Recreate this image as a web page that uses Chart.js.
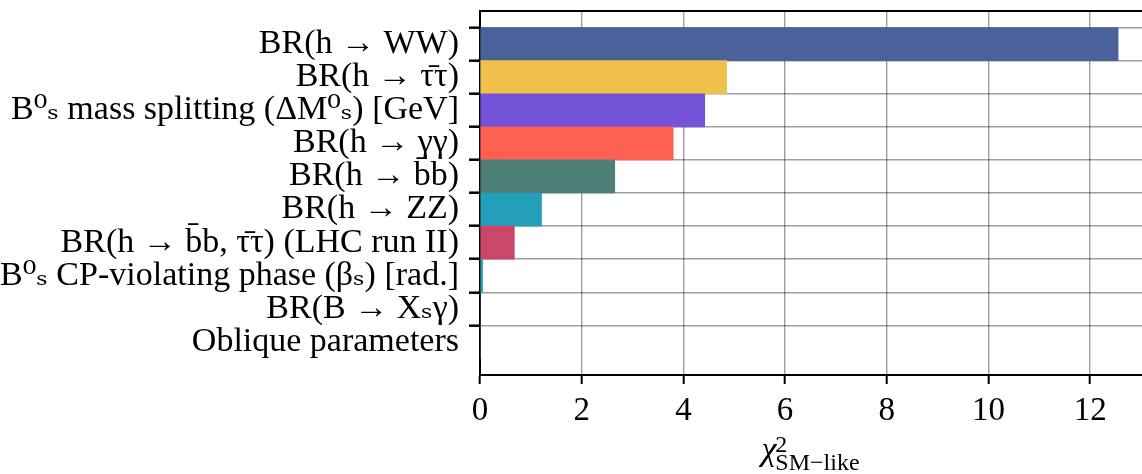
<!DOCTYPE html>
<html>
<head>
<meta charset="utf-8">
<script src="https://cdn.jsdelivr.net/npm/chart.js@4.4.1/dist/chart.umd.min.js"></script>
<style>
  html, body { margin: 0; padding: 0; background: #fff; }
  #wrap { width: 1142px; height: 474px; }
</style>
</head>
<body>
<div id="wrap"><canvas id="chartChi2"></canvas></div>
<script>
const categories = [
  'BR(h → WW)',
  'BR(h → τ̄τ)',
  'B⁰ₛ mass splitting (ΔM⁰ₛ) [GeV]',
  'BR(h → γγ)',
  'BR(h → b̄b)',
  'BR(h → ZZ)',
  'BR(h → b̄b, τ̄τ) (LHC run II)',
  'B⁰ₛ CP-violating phase (βₛ) [rad.]',
  'BR(B → Xₛγ)',
  'Oblique parameters'
];
const chi2Values = [12.55, 4.85, 4.42, 3.80, 2.65, 1.21, 0.675, 0.05, 0, 0];
const barColors = ['#4a6199', '#f0c04c', '#7453d9', '#fd5f50', '#4d7f76', '#239fba', '#c94867', '#2a9dab', '#8b6fb0', '#999999'];
const xTicks = [0, 2, 4, 6, 8, 10, 12];

const SERIF = '"Liberation Serif", "DejaVu Serif", serif';
const GRID = 'rgba(0,0,0,0.38)';

// empty slot above and below the categories, like the matplotlib margins
const labels = ['', ...categories, ''];
const values = [null, ...chi2Values, null];
const colors = ['#000', ...barColors, '#000'];
const isPad = i => i === 0 || i === labels.length - 1;

// top spine + chi^2_{SM-like} axis title
const framePlugin = {
  id: 'frame',
  afterDraw(chart) {
    const { ctx, chartArea: a } = chart;
    ctx.save();
    ctx.strokeStyle = '#000';
    ctx.lineWidth = 2;
    ctx.beginPath();
    ctx.moveTo(a.left, a.top);
    ctx.lineTo(a.right, a.top);
    ctx.stroke();

    ctx.fillStyle = '#000';
    ctx.textBaseline = 'alphabetic';
    ctx.textAlign = 'left';
    ctx.font = 'italic 34px ' + SERIF;
    const wChi = ctx.measureText('χ').width;
    ctx.font = '24px ' + SERIF;
    const wSub = ctx.measureText('SM−like').width;
    const x0 = (a.left + a.right) / 2 - (wChi + wSub) / 2;
    ctx.font = 'italic 34px ' + SERIF;
    ctx.fillText('χ', x0, 460);
    ctx.font = '24px ' + SERIF;
    ctx.fillText('2', x0 + wChi - 1, 452);
    ctx.fillText('SM−like', x0 + wChi - 1, 470);
    ctx.restore();
  }
};

new Chart(document.getElementById('chartChi2').getContext('2d'), {
  type: 'bar',
  data: {
    labels: labels,
    datasets: [{
      data: values,
      backgroundColor: colors,
      borderWidth: 0,
      barPercentage: 1,
      categoryPercentage: 1
    }]
  },
  options: {
    indexAxis: 'y',
    responsive: true,
    maintainAspectRatio: false,
    animation: false,
    layout: { padding: { top: 11, right: 0, bottom: 0, left: 0 } },
    plugins: {
      legend: { display: false },
      tooltip: { enabled: false }
    },
    scales: {
      x: {
        type: 'linear',
        min: 0,
        max: 13.02,
        z: 1,
        afterBuildTicks: (scale) => { scale.ticks = xTicks.map(v => ({ value: v })); },
        afterFit: (scale) => {
          scale.height = 99;
          scale.paddingLeft = 0;
          scale.paddingRight = 0;
        },
        grid: { color: GRID, lineWidth: 1.4, tickColor: '#000', tickWidth: 2, tickLength: 9 },
        border: { color: '#000', width: 2 },
        ticks: {
          color: '#000',
          font: { family: SERIF, size: 33 },
          padding: 8,
          maxRotation: 0
        }
      },
      y: {
        type: 'category',
        offset: false,
        z: 1,
        afterFit: (scale) => {
          scale.width = 480;
          scale.paddingTop = 0;
          scale.paddingBottom = 0;
        },
        grid: {
          color: (c) => isPad(c.index) ? 'rgba(0,0,0,0)' : GRID,
          tickColor: '#000',
          lineWidth: 1.4,
          tickWidth: (c) => isPad(c.index) ? 0 : 2.5,
          tickLength: 11
        },
        border: { color: '#000', width: 2 },
        ticks: {
          autoSkip: false,
          color: '#000',
          font: { family: SERIF, size: 34 },
          padding: 10
        }
      }
    }
  },
  plugins: [framePlugin]
});
</script>
</body>
</html>
